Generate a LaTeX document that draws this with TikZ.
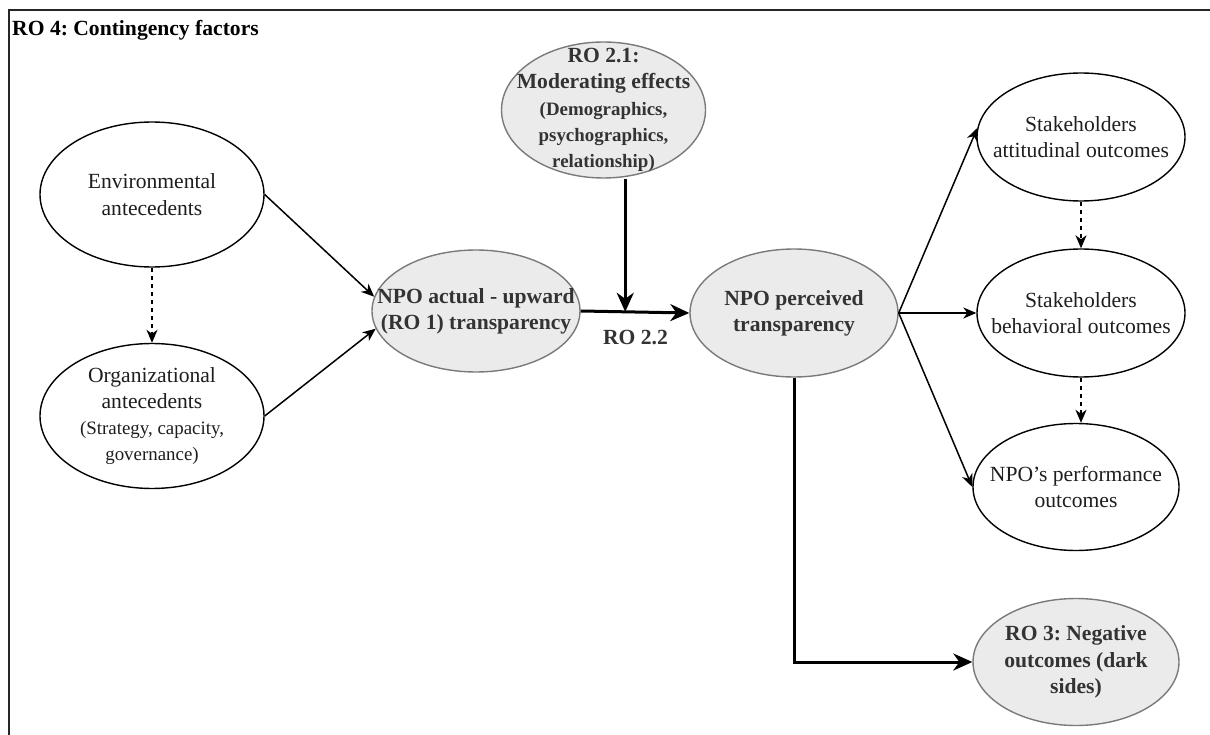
\documentclass[tikz,border=0pt]{standalone}
\usepackage{fontspec}
\setmainfont{Liberation Serif}
\usetikzlibrary{arrows.meta,shapes.geometric,calc}
\definecolor{greyfill}{HTML}{EBEBEB}
\definecolor{greyline}{HTML}{7A7A7A}
\definecolor{greytext}{HTML}{333333}
\definecolor{plaintext}{HTML}{1E1E1E}
\newcommand{\bigsize}{\fontsize{21.6}{26.3}\selectfont}
\newcommand{\smallsize}{\fontsize{18.9}{26.3}\selectfont}
\frenchspacing
\begin{document}
\begin{tikzpicture}[x=1pt,y=-1pt,
  % the ellipse keeps its given size; its text is set as a centred label
  oval/.style={ellipse, inner sep=0pt, line width=1.4pt},
  plainlabel/.style={align=center, inner sep=0pt, text=plaintext, font=\bigsize},
  boldlabel/.style={align=center, inner sep=0pt, text=greytext, font=\bfseries\bigsize},
  whitenode/.style={oval, draw=black, fill=white, label={[plainlabel]center:{#1}}},
  greynode/.style={oval, draw=greyline, fill=greyfill, label={[boldlabel]center:{#1}}},
  link/.style={line width=1.5pt, -{Stealth[length=13pt,width=11pt,inset=4pt]}},
  dashlink/.style={link, dash pattern=on 4pt off 4pt},
  heavylink/.style={line width=3pt, -{Stealth[length=19pt,width=17pt,inset=6pt]}},
]
\useasboundingbox (0,0) rectangle (1210,735);

% container frame (left and top edges)
\draw[line width=2pt, black!85] (8.5,740) -- (8.5,10) -- (1215,10);
\node[anchor=base west, font=\bfseries\bigsize, text=black, inner sep=0pt] (title) at (12,36) {RO 4: Contingency factors};

% antecedents
\node[whitenode={Environmental\\antecedents}, minimum width=224pt, minimum height=145pt] (env) at (152,194.5) {};
\node[whitenode={Organizational\\antecedents\\{\smallsize (Strategy, capacity,}\\{\smallsize governance)}},
      minimum width=224pt, minimum height=145pt] (org) at (152,416) {};

% transparency
\node[greynode={NPO actual - upward\\(RO 1) transparency}, minimum width=208pt, minimum height=122pt] (act) at (476,311) {};
\node[greynode={RO 2.1:\\Moderating effects\\{\smallsize (Demographics,}\\{\smallsize psychographics,}\\{\smallsize relationship)}},
      minimum width=204pt, minimum height=136pt] (mod) at (603.5,110) {};
\node[greynode={NPO perceived\\transparency}, minimum width=208pt, minimum height=128pt] (per) at (794,313) {};

% outcomes
\node[whitenode={Stakeholders\\attitudinal outcomes}, minimum width=208pt, minimum height=128pt] (att) at (1081,137) {};
\node[whitenode={Stakeholders\\behavioral outcomes}, minimum width=208pt, minimum height=128pt] (beh) at (1081,313) {};
\node[whitenode={NPO's performance\\outcomes}, minimum width=206pt, minimum height=127pt] (perf) at (1076,487) {};
\node[greynode={RO 3: Negative\\outcomes (dark\\sides)}, minimum width=206pt, minimum height=127pt] (neg) at (1076,662) {};

% connectors
\draw[dashlink] (env.south) -- (org.north);
\draw[link] (env.east) -- (act.172);
\draw[link] (org.east) -- (act.190);

\draw[heavylink] (act.east) -- (per.west);
\coordinate (j) at ($(act.east)!0.41!(per.west)$);
\draw[heavylink] (mod.south -| j) -- (j);
\node[font=\bfseries\bigsize, text=greytext] (ro22) at (635.5,338) {RO 2.2};

\draw[link] (per.east) -- (att.175);
\draw[link] (per.east) -- (beh.west);
\draw[link] (per.east) -- (perf.west);
\draw[dashlink] (att.south) -- (beh.north);
\draw[dashlink] (beh.south) -- (beh.south |- perf.north);

\draw[heavylink] (per.south) |- (neg.west);
\end{tikzpicture}
\end{document}
